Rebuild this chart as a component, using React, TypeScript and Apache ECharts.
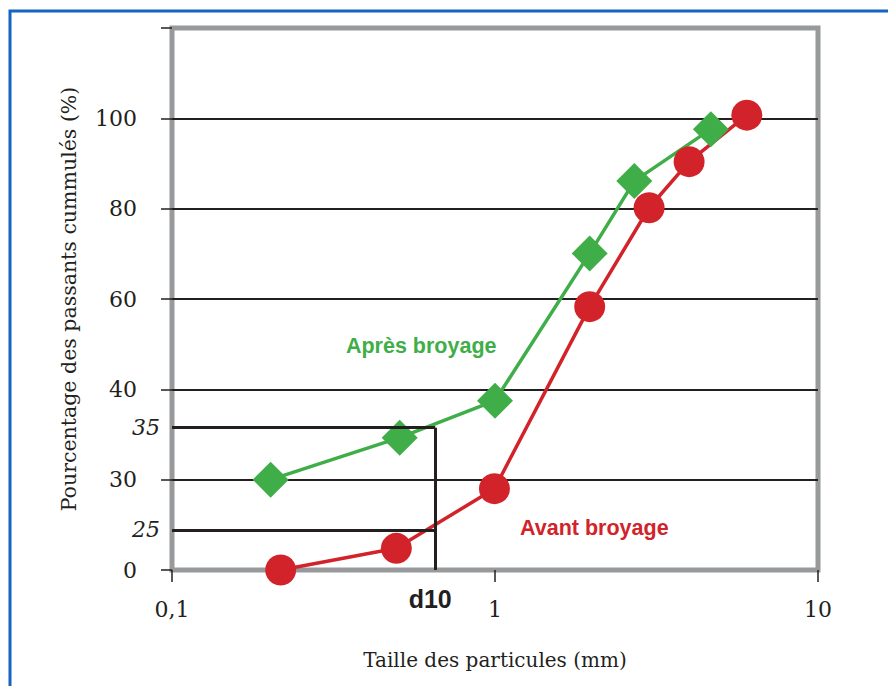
import React, { useEffect, useRef } from "react";
import * as echarts from "echarts";

// ---- data ----
const greenX = [0.202, 0.507, 1.0, 1.964, 2.7, 4.66];
const greenY = [20, 29.3, 37.5, 70.1, 86.1, 97.6];
const redX = [0.217, 0.495, 0.996, 1.964, 3.0, 3.99, 6.02];
const redY = [0, 4.8, 18.0, 58.3, 80.2, 90.4, 100.7];

const seriesNames = ["Après broyage", "Avant broyage"];
const seriesLabelPos = [
  [0.591, 49.6],
  [2.03, 9.3],
];

const yTickValues = [0, 20, 40, 60, 80, 100, 120];
const yTickLabels = ["0", "30", "40", "60", "80", "100", ""];
const xTickValues = [0.1, 1, 10];
const xTickLabels = ["0,1", "1", "10"];

const refY = [31.5, 8.86];
const refLabels = ["35", "25"];
const d10 = 0.653;
const d10Label = "d10";

const xTitle = "Taille des particules (mm)";
const yTitle = "Pourcentage des passants cummulés (%)";

const GREEN = "#3fae49";
const RED = "#d2232a";
const BLACK = "#231f20";
const GRAY = "#98999b";
const SERIF = "'DejaVu Serif', serif";
const SANS = "'Liberation Sans', Arial, sans-serif";

export default function App() {
  const ref = useRef<HTMLDivElement>(null);
  useEffect(() => {
    document.body.style.margin = "0";
    const chart = echarts.init(ref.current!, null, { renderer: "svg" });
    const option: any = {
      animation: false,
      backgroundColor: "#ffffff",
      grid: {
        left: 172,
        right: 70,
        top: 28,
        bottom: 116,
        show: true,
        borderColor: GRAY,
        borderWidth: 5,
        backgroundColor: "transparent",
      },
      xAxis: {
        type: "log",
        logBase: 10,
        min: 0.1,
        max: 10,
        name: xTitle,
        nameLocation: "middle",
        nameGap: 80,
        nameTextStyle: { fontFamily: SERIF, fontSize: 20, color: BLACK },
        axisLine: { show: false },
        axisTick: { show: true, length: 12, lineStyle: { color: BLACK, width: 1.5 } },
        minorTick: { show: false },
        splitLine: { show: false },
        axisLabel: {
          margin: 28,
          fontFamily: SERIF,
          fontSize: 22,
          color: BLACK,
          formatter: (v: number) => {
            const i = xTickValues.findIndex((t) => Math.abs(t - v) < 1e-9);
            return i >= 0 ? xTickLabels[i] : "";
          },
        },
      },
      yAxis: {
        type: "value",
        min: 0,
        max: 120,
        interval: 20,
        name: yTitle,
        nameLocation: "middle",
        nameGap: 93,
        nameTextStyle: { fontFamily: SERIF, fontSize: 20.5, color: BLACK },
        axisLine: { show: false },
        axisTick: { show: true, length: 11, lineStyle: { color: BLACK, width: 1.5 } },
        splitLine: {
          show: true,
          lineStyle: {
            color: ["rgba(0,0,0,0)", BLACK, BLACK, BLACK, BLACK, BLACK, "rgba(0,0,0,0)"],
            width: 2,
          },
        },
        axisLabel: {
          margin: 35,
          fontFamily: SERIF,
          fontSize: 22,
          color: BLACK,
          padding: [0, 0, 10, 0],
          formatter: (v: number) => {
            const i = yTickValues.indexOf(v);
            return i >= 0 ? yTickLabels[i] : "";
          },
        },
      },
      graphic: [
        {
          type: "rect",
          shape: { x: 10, y: 11, width: 900, height: 700 },
          style: { fill: "none", stroke: "#1565c0", lineWidth: 3 },
          silent: true,
        },
      ],
      series: [
        {
          type: "line",
          data: [],
          silent: true,
          markLine: {
            silent: true,
            symbol: ["none", "none"],
            lineStyle: { color: BLACK, width: 3, type: "solid" },
            label: {
              show: true,
              position: "start",
              distance: 12,
              fontFamily: SERIF,
              fontStyle: "italic",
              fontSize: 22,
              color: BLACK,
            },
            data: refY.map((y, i) => [
              { coord: [0.1, y], label: { formatter: refLabels[i] } },
              { coord: [d10, y] },
            ]),
          },
        },
        {
          type: "line",
          data: [],
          silent: true,
          markLine: {
            silent: true,
            symbol: ["none", "none"],
            lineStyle: { color: BLACK, width: 3, type: "solid" },
            label: {
              show: true,
              position: "start",
              distance: 16,
              fontFamily: SANS,
              fontWeight: "bold",
              fontSize: 25,
              color: BLACK,
              padding: [0, 10, 0, 0],
              formatter: d10Label,
            },
            data: [[{ coord: [d10, 0] }, { coord: [d10, refY[0]] }]],
          },
        },
        {
          name: seriesNames[0],
          type: "line",
          data: greenX.map((x, i) => [x, greenY[i]]),
          symbol: "diamond",
          symbolSize: 36,
          lineStyle: { color: GREEN, width: 3.5 },
          itemStyle: { color: GREEN },
          markPoint: {
            silent: true,
            symbol: "circle",
            symbolSize: 0,
            label: {
              show: true,
              position: "inside",
              formatter: seriesNames[0],
              fontFamily: SANS,
              fontWeight: "bold",
              fontSize: 21.5,
              color: GREEN,
            },
            data: [{ coord: seriesLabelPos[0] }],
          },
        },
        {
          name: seriesNames[1],
          type: "line",
          data: redX.map((x, i) => [x, redY[i]]),
          symbol: "circle",
          symbolSize: 31,
          lineStyle: { color: RED, width: 3.5 },
          itemStyle: { color: RED },
          markPoint: {
            silent: true,
            symbol: "circle",
            symbolSize: 0,
            label: {
              show: true,
              position: "inside",
              formatter: seriesNames[1],
              fontFamily: SANS,
              fontWeight: "bold",
              fontSize: 21.5,
              color: RED,
            },
            data: [{ coord: seriesLabelPos[1] }],
          },
        },
      ],
    };
    chart.setOption(option);
    return () => chart.dispose();
  }, []);
  return <div ref={ref} style={{ width: 888, height: 686 }} />;
}
